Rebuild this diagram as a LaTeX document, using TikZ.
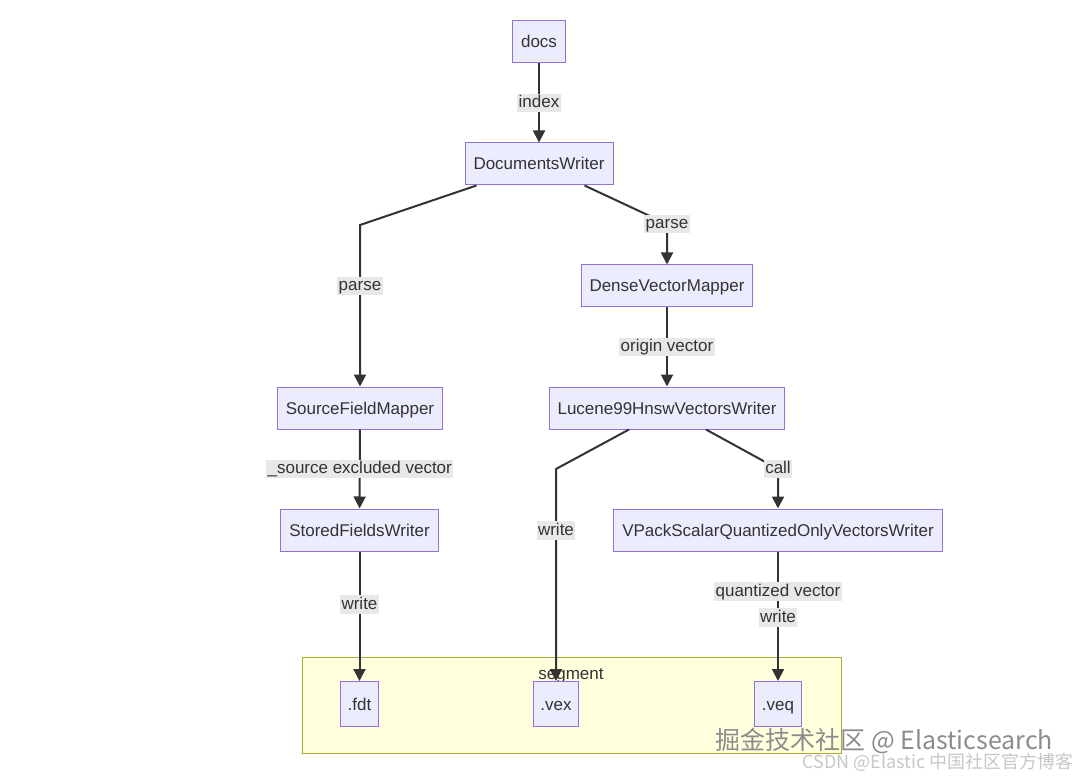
\documentclass[tikz,border=0pt]{standalone}
\usepackage{fontspec}
\setmainfont{Liberation Sans}
\newfontfamily\cjkfont{Noto Sans CJK SC}
\usetikzlibrary{arrows.meta}

\definecolor{nodefill}{HTML}{ECECFF}
\definecolor{boxline}{HTML}{9370DB}
\definecolor{linegray}{HTML}{333333}
\definecolor{labelgray}{HTML}{E8E8E8}
\definecolor{segfill}{HTML}{FFFFDE}
\definecolor{segline}{HTML}{AAAA33}

\begin{document}
\begin{tikzpicture}[x=1pt, y=-1pt, font=\fontsize{17}{20}\selectfont, text=linegray,
    box/.style={draw=boxline, fill=nodefill, line width=1pt, minimum height=42pt, inner xsep=8.5pt, text height=15pt, text depth=3pt},
    filebox/.style={box, minimum height=45pt, inner xsep=7pt},
    elabel/.style={fill=labelgray, inner xsep=1.5pt, inner ysep=0pt, text height=14pt, text depth=4.5pt},
    flow/.style={draw=linegray, line width=2pt, -{Triangle[length=12pt, width=12pt]}}]
    \useasboundingbox (0,0) rectangle (1080,778);

    % Segment cluster
    \draw[fill=segfill, draw=segline, line width=1pt] (302,657) rectangle (841,753);
    \node (seglabel) at (571,676) {segment};

    % Classes
    \node[box] (docs) at (539,42) {docs};
    \node[box] (dw) at (539,164) {DocumentsWriter};
    \node[box] (dvm) at (667,286) {DenseVectorMapper};
    \node[box] (sfm) at (360,408) {SourceFieldMapper};
    \node[box] (hnsw) at (667,408) {Lucene99HnswVectorsWriter};
    \node[box] (sfw) at (359.5,530) {StoredFieldsWriter};
    \node[box] (vpack) at (778,530) {VPackScalarQuantizedOnlyVectorsWriter};

    % Files in the segment
    \node[filebox] (fdt) at (359.5,704) {.fdt};
    \node[filebox] (vex) at (556,704) {.vex};
    \node[filebox] (veq) at (778,704) {.veq};

    % Bend points
    \coordinate (bendsfm) at (360,225);
    \coordinate (benddvm) at (667,224);
    \coordinate (bendvex) at (556,469);
    \coordinate (bendvpack) at (778,469);

    % Flow
    \draw[flow] (docs) -- node[elabel] {index} (dw);
    \draw[flow] ([xshift=12pt]dw.south west) -- (bendsfm) -- node[elabel, pos=0.377] {parse} (sfm);
    \draw[flow] ([xshift=-29pt]dw.south east) -- (benddvm) node[elabel] {parse} -- (dvm);
    \draw[flow] (dvm) -- node[elabel] {origin vector} (hnsw);
    \draw[flow] (sfm) -- node[elabel] {\_source excluded vector} (sfw);
    \draw[flow] ([xshift=-38pt]hnsw.south) -- (bendvex) -- node[elabel, pos=0.29] {write} (vex);
    \draw[flow] ([xshift=39pt]hnsw.south) -- (bendvpack) node[elabel] {call} -- (vpack);
    \draw[flow] (sfw) -- node[elabel, pos=0.41] {write} (fdt);
    \draw[flow] (vpack) -- node[elabel, pos=0.31] {quantized vector} node[elabel, pos=0.51] {write} (veq);

    % Watermarks
    \node[anchor=west, text=black!45, font=\cjkfont\fontsize{25}{28}\selectfont] (mark) at (712,741) {掘金技术社区 @ Elasticsearch};
    \node[anchor=east, text=black!22, font=\cjkfont\fontsize{18}{20}\selectfont] (csdn) at (1077,762) {CSDN @Elastic 中国社区官方博客};
\end{tikzpicture}
\end{document}
